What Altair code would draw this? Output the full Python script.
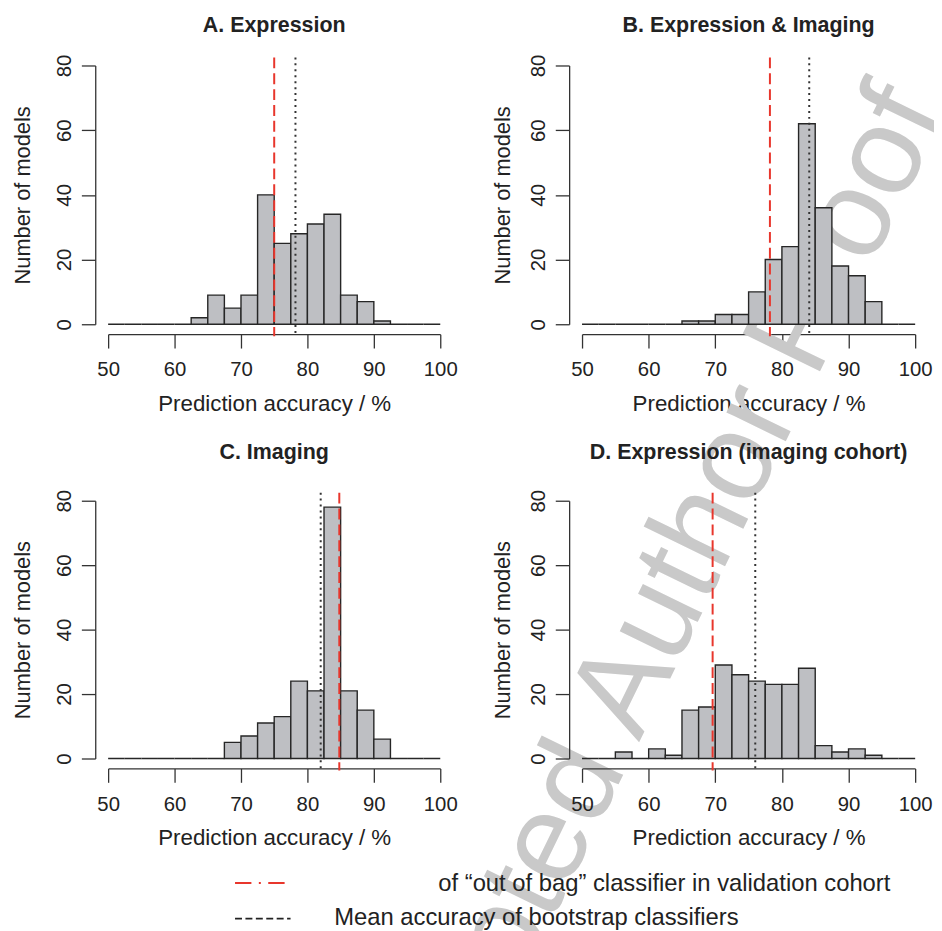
import altair as alt
import pandas as pd

# ---------------- data ----------------
BIN_LEFT = [50, 52.5, 55, 57.5, 60, 62.5, 65, 67.5, 70, 72.5,
            75, 77.5, 80, 82.5, 85, 87.5, 90, 92.5, 95, 97.5]
BIN_RIGHT = [52.5, 55, 57.5, 60, 62.5, 65, 67.5, 70, 72.5, 75,
             77.5, 80, 82.5, 85, 87.5, 90, 92.5, 95, 97.5, 100]

COUNTS_A = [0, 0, 0, 0, 0, 2, 9, 5, 9, 40, 25, 28, 31, 34, 9, 7, 1, 0, 0, 0]
COUNTS_B = [0, 0, 0, 0, 0, 0, 1, 1, 3, 3, 10, 20, 24, 62, 36, 18, 15, 7, 0, 0]
COUNTS_C = [0, 0, 0, 0, 0, 0, 0, 5, 7, 11, 13, 24, 21, 78, 21, 15, 6, 0, 0, 0]
COUNTS_D = [0, 0, 2, 0, 3, 1, 15, 16, 29, 26, 24, 23, 23, 28, 4, 2, 3, 1, 0, 0]

TITLES = ["A. Expression", "B. Expression & Imaging",
          "C. Imaging", "D. Expression (imaging cohort)"]
OOB_ACC = [75.0, 78.2, 84.8, 69.6]    # red dashed
MEAN_ACC = [78.2, 84.1, 82.0, 76.0]   # black dotted

X_TICKS = [50, 60, 70, 80, 90, 100]
Y_TICKS = [0, 20, 40, 60, 80]
X_TITLE = "Prediction accuracy / %"
Y_TITLE = "Number of models"
LEGEND_1 = "of \u201cout of bag\u201d classifier in validation cohort"
LEGEND_2 = "Mean accuracy of bootstrap classifiers"
WATERMARK = "Accepted Author Proof"

FONT = "Liberation Sans"
INK = "#222222"


def panel(i, w, h, title_gap, ytitle_x, extra_before=None, extra_after=None):
    df = pd.DataFrame({"x0": BIN_LEFT, "x1": BIN_RIGHT,
                       "n": [COUNTS_A, COUNTS_B, COUNTS_C, COUNTS_D][i]})
    xs = alt.Scale(domain=[50, 100], nice=False, zero=False)
    ys = alt.Scale(domain=[0, 80], nice=False)
    xaxis = alt.Axis(values=X_TICKS, title=X_TITLE, offset=10, tickSize=14,
                     labelPadding=12, labelFontSize=20.5, titleFontSize=22.5,
                     labelFont=FONT, titleFont=FONT, labelColor=INK, titleColor=INK,
                     titleFontWeight="normal", grid=False, domainColor="#333333",
                     tickColor="#333333", domainWidth=1.3, tickWidth=1.3,
                     labelFlush=False, labelOverlap=False,
                     titleY=77, titleBaseline="alphabetic")
    yaxis = alt.Axis(values=Y_TICKS, title=Y_TITLE, offset=13, tickSize=14,
                     labelAngle=270, labelAlign="center", labelBaseline="alphabetic",
                     labelPadding=11, labelFontSize=20.5, titleFontSize=22,
                     labelFont=FONT, titleFont=FONT, labelColor=INK, titleColor=INK,
                     titleFontWeight="normal", grid=False, domainColor="#333333",
                     tickColor="#333333", domainWidth=1.3, tickWidth=1.3,
                     labelFlush=False, labelOverlap=False,
                     titleX=ytitle_x, titleY=h / 2, titleAngle=270,
                     titleAlign="center", titleBaseline="alphabetic")
    bars = alt.Chart(df).mark_rect(fill="#bebfc3", stroke="#262626", strokeWidth=1.4).encode(
        x=alt.X("x0:Q", scale=xs, axis=xaxis),
        x2="x1:Q",
        y=alt.Y("n:Q", scale=ys, axis=yaxis),
        y2=alt.datum(0),
    )
    red = alt.Chart(pd.DataFrame({"acc": [OOB_ACC[i]]})).mark_rule(
        color="#e8362c", strokeWidth=2, strokeDash=[11, 5]).encode(
        x=alt.X("acc:Q", scale=xs), y=alt.datum(82.5), y2=alt.datum(-3.7))
    black = alt.Chart(pd.DataFrame({"acc": [MEAN_ACC[i]]})).mark_rule(
        color="#333333", strokeWidth=2, strokeDash=[2, 4]).encode(
        x=alt.X("acc:Q", scale=xs), y=alt.datum(82.5), y2=alt.datum(-3.7))
    ttl = alt.Chart(pd.DataFrame({"t": [TITLES[i]]})).mark_text(
        fontSize=21.6, font=FONT, fontWeight="bold", color=INK, align="center",
        baseline="alphabetic").encode(x=alt.value(w / 2), y=alt.value(-title_gap), text="t:N")
    layers = (extra_before or []) + [bars, red, black, ttl] + (extra_after or [])
    return alt.layer(*layers).properties(width=w, height=h)


one = pd.DataFrame({"k": [0]})
wm = alt.Chart(pd.DataFrame({"t": [WATERMARK]})).mark_text(
    fontSize=126, font=FONT, color="#c9c9c9", angle=296, align="center",
    baseline="middle").encode(x=alt.value(57), y=alt.value(597), text="t:N")

leg_red = alt.Chart(one).mark_rule(color="#e8362c", strokeWidth=2,
                                   strokeDash=[16.5, 7.5, 2, 7.5]).encode(
    x=alt.value(128), x2=alt.value(178), y=alt.value(385.5))
leg_black = alt.Chart(one).mark_rule(color="#222222", strokeWidth=2,
                                     strokeDash=[7, 3.5]).encode(
    x=alt.value(128), x2=alt.value(184), y=alt.value(421.5))
leg_t1 = alt.Chart(pd.DataFrame({"t": [LEGEND_1]})).mark_text(
    fontSize=24, font=FONT, color=INK, align="left", baseline="alphabetic").encode(
    x=alt.value(333), y=alt.value(393.5), text="t:N")
leg_t2 = alt.Chart(pd.DataFrame({"t": [LEGEND_2]})).mark_text(
    fontSize=24, font=FONT, color=INK, align="left", baseline="alphabetic").encode(
    x=alt.value(228), y=alt.value(427.5), text="t:N")

pA = panel(0, 335, 261, 34, -66)
pB = panel(1, 336, 261, 34, -60, extra_before=[wm])
pC = panel(2, 335, 260, 42, -66, extra_after=[leg_red, leg_black, leg_t1, leg_t2])
pD = panel(3, 336, 260, 42, -60)

chart = alt.concat(pA, pB, pC, pD, columns=2, bounds="flush",
                   spacing={"row": 178, "column": 143}).properties(
    autosize=alt.AutoSizeParams(type="none"),
    padding={"left": 101, "top": 54, "right": 833, "bottom": 869},
    background="white",
).configure_view(stroke=None)

chart.save("out.html", embed_options={"renderer": "svg", "actions": False})
